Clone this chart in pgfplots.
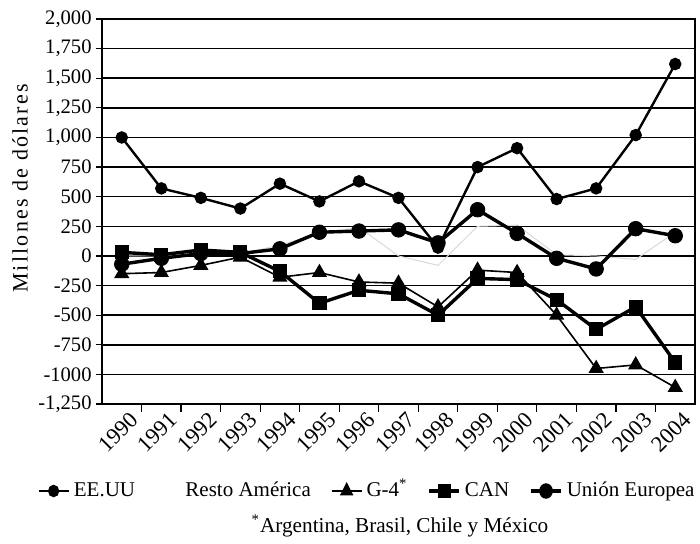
\documentclass[border=0pt]{standalone}
\usepackage{pgfplots}
\pgfplotsset{compat=1.18}
\usepackage{fontspec}
\setmainfont{Liberation Serif}
\pgfplotstableread{
x eeuu resto g4 can ue
0 1000 0 -150 30 -70
1 570 0 -140 10 -20
2 490 10 -80 50 20
3 400 20 -10 30 20
4 610 90 -180 -130 60
5 460 190 -140 -400 200
6 630 240 -220 -290 210
7 490 0 -230 -320 220
8 70 -80 -430 -500 110
9 750 250 -120 -190 390
10 910 260 -140 -200 190
11 480 10 -500 -370 -20
12 570 0 -950 -620 -110
13 1020 -30 -920 -430 230
14 1620 200 -1110 -900 170
}\datatable
\begin{document}
\begin{tikzpicture}
\begin{axis}[
  at={(0,0)}, anchor=south west,
  width=296.5pt, height=192.5pt, scale only axis,
  xmin=-0.5, xmax=14.5, ymin=-1250, ymax=2000,
  xtick={0,...,14},
  xticklabels={1990,1991,1992,1993,1994,1995,1996,1997,1998,1999,2000,2001,2002,2003,2004},
  major x tick style={draw=none},
  minor xtick={0.5,1.5,...,13.5},
  minor x tick style={black, line width=0.6pt},
  minor tick length=4pt,
  ytick={-1250,-1000,-750,-500,-250,0,250,500,750,1000,1250,1500,1750,2000},
  yticklabels={{-1,250},{-1000},{-750},{-500},{-250},{0},{250},{500},{750},{1,000},{1,250},{1,500},{1,750},{2,000}},
  major tick length=3pt,
  tick align=outside,
  xtick pos=bottom, ytick pos=left,
  major y tick style={black, line width=0.6pt},
  ymajorgrids,
  grid style={black, line width=0.75pt},
  axis line style={black, line width=0.8pt},
  yticklabel style={inner sep=1pt, xshift=-1pt, font=\fontsize{10.3}{12}\selectfont},
  xticklabel style={rotate=45, anchor=north east, inner sep=1pt, xshift=3.5pt, yshift=-1.5pt, font=\fontsize{11.3}{13}\selectfont},
  ylabel={\addfontfeature{LetterSpace=10}Millones de dólares},
  ylabel style={at={(axis description cs:-0.138,0.56)}, anchor=center, font=\fontsize{11}{13}\selectfont},
  legend columns=5,
  legend style={at={(axis description cs:-0.1096,-0.226)}, anchor=west, draw=none, fill=none,
    font=\fontsize{10.5}{12}\selectfont, /tikz/every even column/.append style={column sep=8pt},
    nodes={text height=7.6pt, text depth=2.2pt},
    inner sep=0pt},
  legend image post style={xscale=0.88},
  legend cell align=left,
]
\addplot[black, line width=1.2pt, mark=*, mark size=2.5pt] table[x=x, y=eeuu] {\datatable};
\addlegendentry{EE.UU}
\addplot[gray!30, line width=0.5pt, mark=none, legend image code/.code={\path[draw=none, fill=none] (0pt,-2pt) rectangle (15pt,2pt);}] table[x=x, y=resto] {\datatable};
\addlegendentry{Resto América}
\addplot[black, line width=0.8pt, mark=triangle*, mark size=3.6pt] table[x=x, y=g4] {\datatable};
\addlegendentry{G-4\textsuperscript{*}}
\addplot[black, line width=1.7pt, mark=square*, mark size=3.3pt, mark options={line width=0.5pt}] table[x=x, y=can] {\datatable};
\addlegendentry{CAN}
\addplot[black, line width=1.7pt, mark=*, mark size=3.6pt, mark options={line width=0.5pt}] table[x=x, y=ue] {\datatable};
\addlegendentry{Unión Europea}
\end{axis}
\node[font=\fontsize{10.6}{12}\selectfont, anchor=center] at (149pt,-61pt) {\textsuperscript{*}Argentina, Brasil, Chile y México};
\path (-51pt,-66.5pt) rectangle (299pt,202pt);
\end{tikzpicture}
\end{document}
